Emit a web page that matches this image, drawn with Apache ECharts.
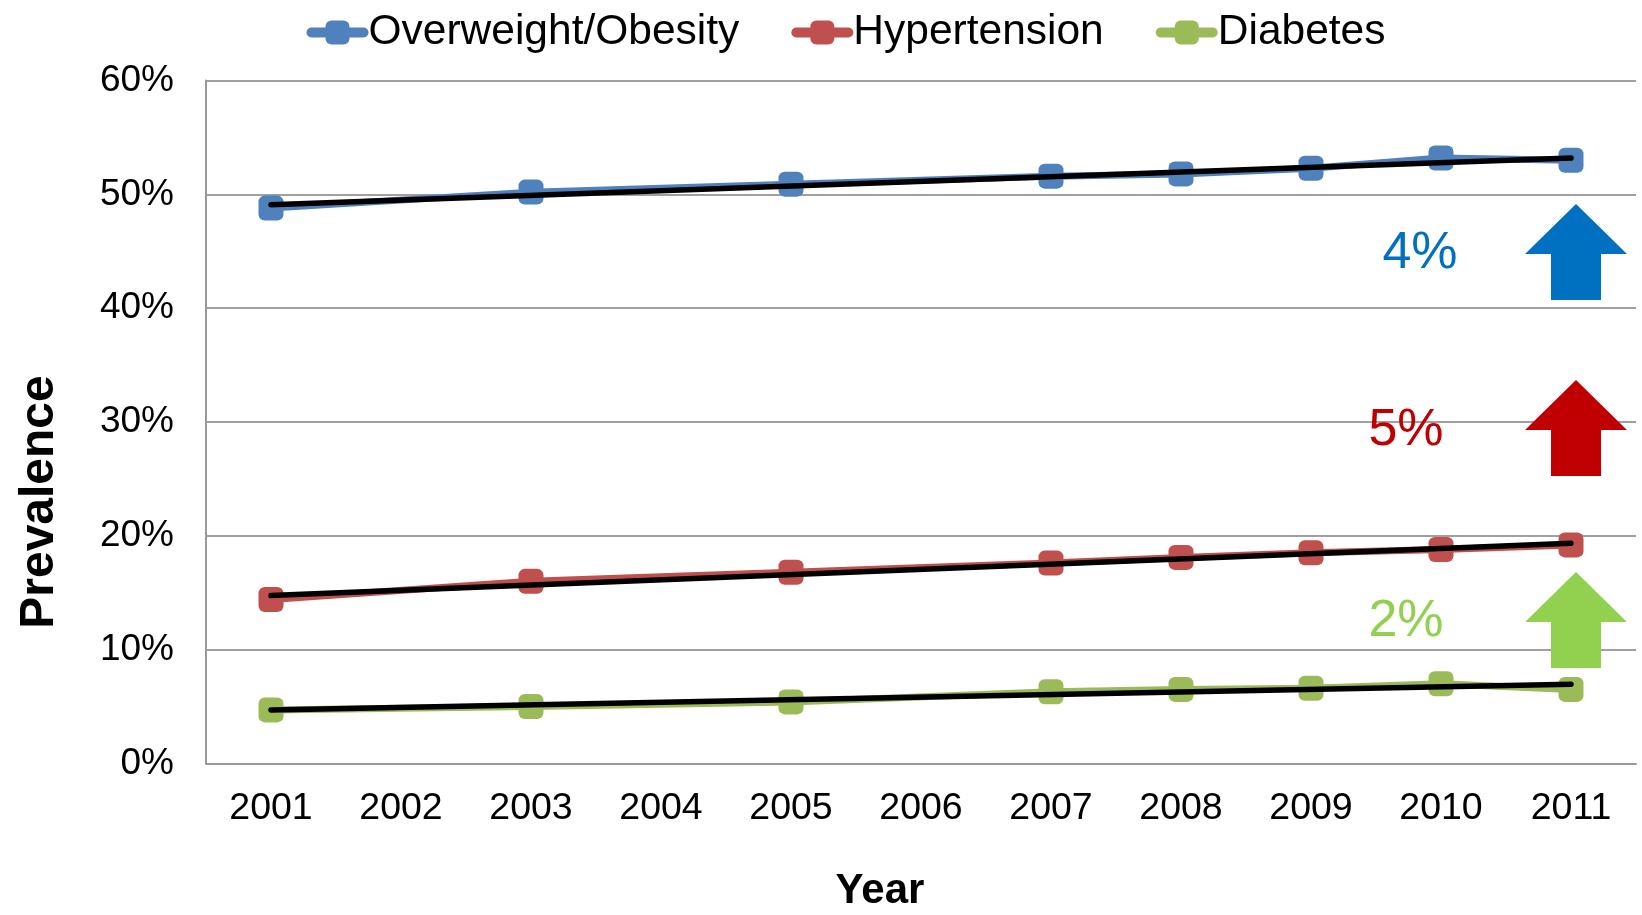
<!DOCTYPE html>
<html>
<head>
<meta charset="utf-8">
<script src="https://cdn.jsdelivr.net/npm/echarts@6/dist/echarts.min.js"></script>
<style>
  html, body { margin: 0; padding: 0; background: #fff; }
  #chart { width: 1642px; height: 915px; }
</style>
</head>
<body>
<div id="chart"></div>
<script>
// Survey years on the category axis
const years = ['2001', '2002', '2003', '2004', '2005', '2006', '2007', '2008', '2009', '2010', '2011'];

// Prevalence (%) by year; no survey in 2002, 2004, 2006
const overweight   = [48.8, null, 50.2, null, 50.9, null, 51.6, 51.8, 52.3, 53.2, 53.0];
const hypertension = [14.4, null, 16.0, null, 16.8, null, 17.6, 18.1, 18.5, 18.8, 19.2];
const diabetes     = [4.7,  null, 5.0,  null, 5.4,  null, 6.3,  6.5,  6.6,  7.0,  6.5];

// Linear trend, start (2001) and end (2011) values
const overweightTrend   = [49.1, 53.2];
const hypertensionTrend = [14.75, 19.35];
const diabetesTrend     = [4.7, 6.95];

// Increase over the decade
const increases = ['4%', '5%', '2%'];

// Value-axis ticks
const yTicks = [0, 10, 20, 30, 40, 50, 60];

const FONT = "'Liberation Sans', Arial, Helvetica, sans-serif";
const COLORS = { ow: '#4F81BD', ht: '#C0504D', db: '#9BBB59' };
const ARROW_COLORS = ['#0070C0', '#C00000', '#92D050'];

function trendData(pair) {
  const d = years.map(() => null);
  d[0] = pair[0];
  d[d.length - 1] = pair[1];
  return d;
}

function dataSeries(name, data, color) {
  return {
    name: name,
    type: 'line',
    data: data,
    connectNulls: true,
    symbol: 'roundRect',
    symbolSize: 25,
    itemStyle: { color: color },
    lineStyle: { color: color, width: 7 },
    z: 2
  };
}

function trendSeries(name, pair) {
  return {
    name: name,
    type: 'line',
    data: trendData(pair),
    connectNulls: true,
    symbol: 'none',
    lineStyle: { color: '#000', width: 5.5, cap: 'round' },
    silent: true,
    z: 3
  };
}

const chart = echarts.init(document.getElementById('chart'), null, { renderer: 'canvas' });

// Up-arrow polygon centred on cx with its tip at tipY
function arrow(cx, tipY, color) {
  const headHalf = 51, stemHalf = 25, headH = 50, totalH = 96;
  return {
    type: 'polygon',
    shape: {
      points: [
        [cx, tipY],
        [cx + headHalf, tipY + headH],
        [cx + stemHalf, tipY + headH],
        [cx + stemHalf, tipY + totalH],
        [cx - stemHalf, tipY + totalH],
        [cx - stemHalf, tipY + headH],
        [cx - headHalf, tipY + headH]
      ]
    },
    style: { fill: color },
    silent: true,
    z: 10
  };
}

function label(text, x, y, color) {
  return {
    type: 'text',
    x: x, y: y,
    style: {
      text: text, fill: color, font: '52px ' + FONT,
      align: 'center', verticalAlign: 'middle'
    },
    silent: true,
    z: 10
  };
}

const option = {
  animation: false,
  backgroundColor: '#fff',
  textStyle: { fontFamily: FONT },
  grid: {
    left: 206, right: 6, top: 80.6, bottom: 151.6,
    containLabel: false,
    outerBoundsMode: 'none'
  },
  legend: {
    data: ['Overweight/Obesity', 'Hypertension', 'Diabetes'],
    left: 301.5,
    top: 6,
    itemWidth: 52,
    itemHeight: 30,
    itemGap: 52,
    lineStyle: { width: 10, cap: 'round' },
    textStyle: { fontSize: 42.5, color: '#000', fontFamily: FONT },
    selectedMode: false
  },
  xAxis: {
    type: 'category',
    data: years,
    boundaryGap: true,
    axisLine: { lineStyle: { color: '#999', width: 2 } },
    axisTick: { show: false },
    axisLabel: { color: '#000', fontSize: 37.5, fontFamily: FONT, margin: 26 },
    name: 'Year',
    nameLocation: 'middle',
    nameGap: 107,
    nameTextStyle: { color: '#000', fontSize: 42, fontWeight: 'bold', fontFamily: FONT, padding: [0, 82, 0, 0] }
  },
  yAxis: {
    type: 'value',
    min: yTicks[0],
    max: yTicks[yTicks.length - 1],
    interval: yTicks[1] - yTicks[0],
    axisLine: { show: true, lineStyle: { color: '#999', width: 2 } },
    axisTick: { show: false },
    splitLine: { lineStyle: { color: '#A0A0A0', width: 2 } },
    axisLabel: { color: '#000', fontSize: 37, fontFamily: FONT, margin: 32, formatter: '{value}%' },
    name: 'Prevalence',
    nameLocation: 'middle',
    nameGap: 142,
    nameRotate: 90,
    nameTextStyle: { color: '#000', fontSize: 48, fontWeight: 'bold', fontFamily: FONT, padding: [0, 160, 0, 0] }
  },
  series: [
    dataSeries('Overweight/Obesity', overweight, COLORS.ow),
    trendSeries('Overweight/Obesity trend', overweightTrend),
    dataSeries('Hypertension', hypertension, COLORS.ht),
    trendSeries('Hypertension trend', hypertensionTrend),
    dataSeries('Diabetes', diabetes, COLORS.db),
    trendSeries('Diabetes trend', diabetesTrend)
  ],
  graphic: [
    arrow(1576, 204, ARROW_COLORS[0]),
    arrow(1576, 380, ARROW_COLORS[1]),
    arrow(1576, 572, ARROW_COLORS[2]),
    label(increases[0], 1420, 254, ARROW_COLORS[0]),
    label(increases[1], 1406, 431, ARROW_COLORS[1]),
    label(increases[2], 1406, 622, ARROW_COLORS[2])
  ]
};

chart.setOption(option);
</script>
</body>
</html>
